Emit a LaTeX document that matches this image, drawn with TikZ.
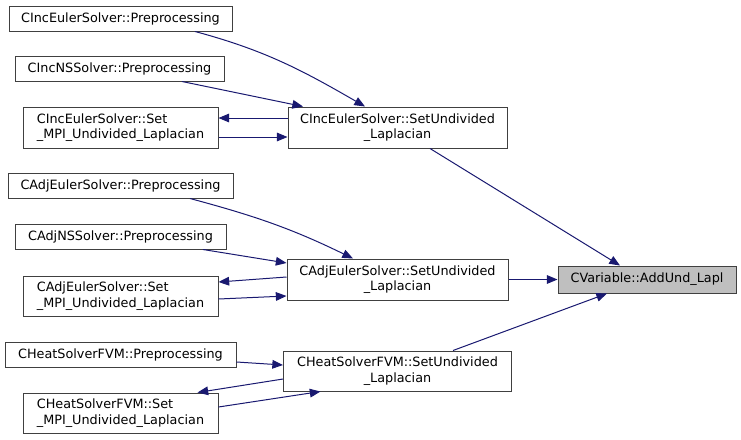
\documentclass[tikz,border=0pt]{standalone}
\usepackage{fontspec}
\setmainfont{DejaVu Sans}
\usetikzlibrary{arrows.meta}
\definecolor{edgeblue}{HTML}{191970}
\definecolor{boxline}{HTML}{404040}
\definecolor{hilite}{HTML}{BFBFBF}

\begin{document}
\begin{tikzpicture}[x=0.75pt,y=-0.75pt,line width=0.75pt,>={Triangle[length=8pt,width=6.5pt]},
  fn/.style={draw=boxline,inner sep=0pt,font=\fontsize{9.6}{11.5}\selectfont},
  call/.style={->,edgeblue}]
  \useasboundingbox (0,0) rectangle (741,439);
  % gruppo incomprimibile
  \node[fn,minimum width=167.25pt,minimum height=18.75pt] (incpre) at (120.5,18.5) {CIncEulerSolver::Preprocessing};
  \node[fn,minimum width=156.75pt,minimum height=18.75pt] (incnspre) at (119.5,68.5) {CIncNSSolver::Preprocessing};
  \node[fn,minimum width=146.25pt,minimum height=30.75pt,align=left] (incmpi) at (120.5,127.5) {CIncEulerSolver::Set\\\_MPI\_Undivided\_Laplacian};
  \node[fn,minimum width=164.25pt,minimum height=30.75pt,align=center] (incund) at (397.5,127.5) {CIncEulerSolver::SetUndivided\\\_Laplacian};
  % gruppo aggiunto
  \node[fn,minimum width=168.75pt,minimum height=18.75pt] (adjpre) at (120.5,185.5) {CAdjEulerSolver::Preprocessing};
  \node[fn,minimum width=158.25pt,minimum height=18.75pt] (adjnspre) at (120.5,236.5) {CAdjNSSolver::Preprocessing};
  \node[fn,minimum width=146.25pt,minimum height=30pt,align=left] (adjmpi) at (120.5,296) {CAdjEulerSolver::Set\\\_MPI\_Undivided\_Laplacian};
  \node[fn,minimum width=165.75pt,minimum height=30.75pt,align=center] (adjund) at (397.5,279.5) {CAdjEulerSolver::SetUndivided\\\_Laplacian};
  % gruppo calore
  \node[fn,minimum width=173.25pt,minimum height=18.75pt] (heatpre) at (120.5,354.5) {CHeatSolverFVM::Preprocessing};
  \node[fn,minimum width=146.25pt,minimum height=30pt,align=left] (heatmpi) at (120.5,413) {CHeatSolverFVM::Set\\\_MPI\_Undivided\_Laplacian};
  \node[fn,minimum width=171pt,minimum height=30pt,align=center] (heatund) at (397.5,371) {CHeatSolverFVM::SetUndivided\\\_Laplacian};
  % funzione chiamata
  \node[fn,fill=hilite,minimum width=133.5pt,minimum height=20.25pt] (lapl) at (647,279.5) {CVariable::AddUnd\_Lapl};
  % chiamate
  \draw[call] ([shift={(74.5,0)}]incpre.south) to[out=-15,in=150] ([shift={(-32.5,0)}]incund.north);
  \draw[call] ([shift={(62.5,0)}]incnspre.south) -- ([shift={(-94.5,0)}]incund.north);
  \draw[call] ([shift={(0,-9.5)}]incund.west) -- ([shift={(0,-9.5)}]incmpi.east);
  \draw[call] ([shift={(0,9.5)}]incmpi.east) -- ([shift={(0,9.5)}]incund.west);
  \draw[call] ([shift={(32.5,0)}]incund.south) -- ([shift={(-27,0)}]lapl.north);
  \draw[call] ([shift={(69.5,0)}]adjpre.south) to[out=-15,in=154] ([shift={(-44.5,0)}]adjund.north);
  \draw[call] ([shift={(82.5,0)}]adjnspre.south) -- ([shift={(0,-16.5)}]adjund.west);
  \draw[call] ([shift={(0,-2.5)}]adjund.west) -- ([shift={(0,-14)}]adjmpi.east);
  \draw[call] ([shift={(0,3)}]adjmpi.east) -- ([shift={(0,16.5)}]adjund.west);
  \draw[call] (adjund.east) -- (lapl.west);
  \draw[call] ([shift={(0,7.5)}]heatpre.east) -- ([shift={(0,-6)}]heatund.west);
  \draw[call] ([shift={(0,8)}]heatund.west) -- ([shift={(77,0)}]heatmpi.north);
  \draw[call] ([shift={(0,-6)}]heatmpi.east) -- ([shift={(-77,0)}]heatund.south);
  \draw[call] ([shift={(55.5,0)}]heatund.north) -- ([shift={(-40,0)}]lapl.south);
\end{tikzpicture}
\end{document}
